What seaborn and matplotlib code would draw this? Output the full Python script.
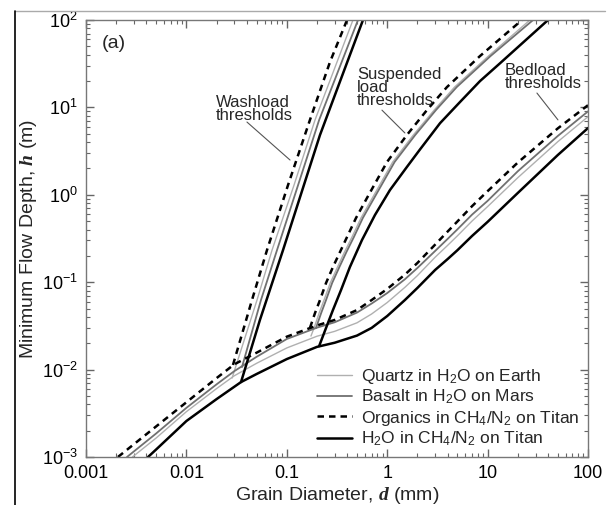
import numpy as np
import pandas as pd
import matplotlib.pyplot as plt
import matplotlib.ticker as mticker
from matplotlib.lines import Line2D
import seaborn as sns

# ---- values (d in mm, h in m) ----
materials = ['Quartz in H$_2$O on Earth', 'Basalt in H$_2$O on Mars',
             'Organics in CH$_4$/N$_2$ on Titan', 'H$_2$O in CH$_4$/N$_2$ on Titan']

# bedload thresholds (run across the whole grain-size range)
bed_d_quartz = [0.0029, 0.005, 0.01, 0.02, 0.03, 0.05, 0.1, 0.2, 0.3, 0.5, 0.7, 1, 1.5, 2, 3, 4, 5, 7,
                10, 20, 50, 100]
bed_h_quartz = [0.001, 0.00165, 0.0033, 0.00607, 0.0085, 0.0118, 0.0177, 0.0241, 0.0274, 0.0343, 0.0433,
                0.0585, 0.0873, 0.119, 0.193, 0.264, 0.339, 0.501, 0.733, 1.57, 4.05, 7.83]
bed_d_basalt = [0.00256, 0.005, 0.01, 0.02, 0.03, 0.05, 0.1, 0.2, 0.3, 0.5, 0.7, 1, 1.5, 2, 3, 4, 5, 7,
                10, 20, 50, 100]
bed_h_basalt = [0.001, 0.00186, 0.00365, 0.00679, 0.0096, 0.014, 0.0224, 0.0302, 0.0348, 0.0449, 0.057,
                0.0751, 0.108, 0.1455, 0.2275, 0.313, 0.402, 0.593, 0.852, 1.86, 4.71, 9.0]
bed_d_organics = [0.00208, 0.005, 0.01, 0.02, 0.03, 0.05, 0.1, 0.2, 0.3, 0.5, 0.7, 1, 1.5, 2, 3, 4, 5, 7,
                  10, 20, 50, 100]
bed_h_organics = [0.001, 0.00224, 0.00423, 0.008, 0.0115, 0.0156, 0.0238, 0.032, 0.037, 0.048, 0.0625,
                  0.0836, 0.122, 0.166, 0.269, 0.38, 0.495, 0.741, 1.1, 2.34, 5.75, 10.6]
bed_d_ice = [0.00415, 0.005, 0.01, 0.02, 0.035, 0.05, 0.1, 0.2, 0.3, 0.5, 0.7, 1, 1.5, 2, 3, 4, 5, 7,
             10, 20, 50, 100]
bed_h_ice = [0.001, 0.00122, 0.00258, 0.0046, 0.0072, 0.0089, 0.0132, 0.0182, 0.0203, 0.0245, 0.030,
             0.041, 0.0625, 0.086, 0.138, 0.184, 0.232, 0.338, 0.49, 1.05, 2.85, 5.8]

# suspended load thresholds
sus_d_quartz = [0.174, 0.187, 0.21, 0.235, 0.271, 0.32, 0.376, 0.446, 0.548, 0.711, 1.134, 1.82, 2.94,
                4.69, 10.2, 26.4]
sus_h_quartz = [0.0242, 0.030, 0.0444, 0.0625, 0.098, 0.149, 0.222, 0.329, 0.543, 0.92, 2.37, 4.83, 9.33,
                17.1, 38.7, 100]
sus_d_basalt = [0.195, 0.22, 0.246, 0.283, 0.334, 0.393, 0.466, 0.572, 0.742, 1.184, 1.9, 3.06, 4.93,
                10.7, 28.4]
sus_h_basalt = [0.0298, 0.0444, 0.0625, 0.098, 0.149, 0.222, 0.329, 0.543, 0.92, 2.37, 4.83, 9.33, 17.1,
                38.7, 100]
sus_d_organics = [0.17, 0.191, 0.214, 0.246, 0.288, 0.339, 0.398, 0.489, 0.629, 0.995, 1.57, 2.49, 3.94,
                  8.4, 22.0]
sus_h_organics = [0.030, 0.0444, 0.0625, 0.098, 0.149, 0.222, 0.329, 0.543, 0.92, 2.37, 4.83, 9.33, 17.1,
                  38.7, 100]
sus_d_ice = [0.21, 0.246, 0.288, 0.347, 0.425, 0.561, 0.755, 1.066, 1.57, 2.12, 3.36, 5.3, 8.4, 13.3, 40.0]
sus_h_ice = [0.0186, 0.030, 0.048, 0.0815, 0.149, 0.304, 0.587, 1.135, 2.08, 3.3, 6.6, 11.5, 20.0, 32.0, 100]

# washload thresholds
wash_d_quartz = [0.0285, 0.0505, 0.0713, 0.118, 0.191, 0.456]
wash_h_quartz = [0.008, 0.0625, 0.233, 1.29, 7.18, 100]
wash_d_basalt = [0.0358, 0.0553, 0.0799, 0.1295, 0.21, 0.512]
wash_h_basalt = [0.0107, 0.0625, 0.233, 1.29, 7.18, 100]
wash_d_organics = [0.0291, 0.045, 0.0635, 0.1028, 0.17, 0.269, 0.398]
wash_h_organics = [0.0113, 0.0625, 0.233, 1.29, 7.18, 33.0, 100]
wash_d_ice = [0.035, 0.054, 0.0917, 0.214, 0.574]
wash_h_ice = [0.0072, 0.037, 0.233, 4.83, 100]

x_ticks = [0.001, 0.01, 0.1, 1, 10, 100]
x_ticklabels = ['0.001', '0.01', '0.1', '1', '10', '100']

curves = {
    materials[0]: [(bed_d_quartz, bed_h_quartz), (sus_d_quartz, sus_h_quartz), (wash_d_quartz, wash_h_quartz)],
    materials[1]: [(bed_d_basalt, bed_h_basalt), (sus_d_basalt, sus_h_basalt), (wash_d_basalt, wash_h_basalt)],
    materials[2]: [(bed_d_organics, bed_h_organics), (sus_d_organics, sus_h_organics), (wash_d_organics, wash_h_organics)],
    materials[3]: [(bed_d_ice, bed_h_ice), (sus_d_ice, sus_h_ice), (wash_d_ice, wash_h_ice)],
}
styles = {
    materials[0]: dict(color='#b0b0b0', lw=1.0, dashes=None),
    materials[1]: dict(color='#707070', lw=1.3, dashes=None),
    materials[2]: dict(color='black', lw=1.8, dashes=(2.6, 2.0)),
    materials[3]: dict(color='black', lw=1.8, dashes=None),
}

sns.set_style('ticks')
plt.rcParams['font.family'] = ['Liberation Sans', 'DejaVu Sans']
plt.rcParams['mathtext.fontset'] = 'custom'
plt.rcParams['mathtext.rm'] = 'Liberation Sans'
plt.rcParams['mathtext.it'] = 'Liberation Sans:italic'
plt.rcParams['mathtext.bf'] = 'Liberation Serif:bold:italic'

fig = plt.figure(figsize=(6.13, 5.05), dpi=100)
ax = fig.add_axes([86 / 613, 48 / 505, 502 / 613, 437 / 505])

for name in materials:
    st = styles[name]
    for i, (dd, hh) in enumerate(curves[name]):
        df = pd.DataFrame({'d': dd, 'h': hh})
        sns.lineplot(data=df, x='d', y='h', ax=ax, sort=False, estimator=None,
                     color=st['color'], lw=st['lw'], legend=False)
        ax.lines[-1].set_solid_joinstyle('round')
        if st['dashes'] is not None:
            ax.lines[-1].set_dashes(st['dashes'])

ax.set_xscale('log')
ax.set_yscale('log')
ax.set_xlim(0.001, 100)
ax.set_ylim(0.001, 100)
ax.xaxis.set_major_locator(mticker.FixedLocator(x_ticks))
ax.xaxis.set_major_formatter(mticker.FixedFormatter(x_ticklabels))
ax.xaxis.set_minor_locator(mticker.LogLocator(base=10, subs=np.arange(2, 10)))
ax.yaxis.set_minor_locator(mticker.LogLocator(base=10, subs=np.arange(2, 10)))
ax.xaxis.set_minor_formatter(mticker.NullFormatter())
ax.yaxis.set_minor_formatter(mticker.NullFormatter())
ax.tick_params(which='both', direction='in', top=True, right=True, color='#666666',
               labelsize=13, labelcolor='black')
ax.tick_params(which='major', length=6, width=1.0, pad=6)
ax.tick_params(which='minor', length=3, width=0.8)
for sp in ax.spines.values():
    sp.set_color('#777777')
    sp.set_linewidth(1.0)

ax.set_xlabel(r'Grain Diameter, $\mathbf{d}$ (mm)', fontsize=14, labelpad=2)
ax.set_ylabel(r'Minimum Flow Depth, $\mathbf{h}$ (m)', fontsize=14, labelpad=2)

ax.text(0.032, 0.966, '(a)', transform=ax.transAxes, fontsize=14, va='top', ha='left')

ann = dict(fontsize=12, linespacing=0.85, ha='left', va='top')
ax.text(0.0197, 13.9, 'Washload\nthresholds', **ann)
ax.plot([0.0401, 0.1077], [6.8, 2.5], color='#555555', lw=0.8)
ax.text(0.5, 29, 'Suspended\nload\nthresholds', **ann)
ax.plot([0.887, 1.5], [9.3, 5.1], color='#555555', lw=0.8)
ax.text(14.9, 32, 'Bedload\nthresholds', **ann)
ax.plot([31, 50.2], [14.6, 7.2], color='#555555', lw=0.8)

handles = [Line2D([], [], color=styles[m]['color'], lw=styles[m]['lw'],
                  dashes=styles[m]['dashes'] if styles[m]['dashes'] else (None, None)) for m in materials]
ax.legend(handles, materials, loc='lower right', frameon=False, fontsize=12.5,
          handlelength=2.0, handletextpad=0.5, labelspacing=0.12,
          borderaxespad=0.3, borderpad=0.2)

# scan border of the original figure
fig.add_artist(Line2D([15 / 613, 605 / 613], [1 - 11 / 505, 1 - 11 / 505],
                      transform=fig.transFigure, color='#aaaaaa', lw=1.0))
fig.add_artist(Line2D([15 / 613, 15 / 613], [0, 1 - 11 / 505],
                      transform=fig.transFigure, color='black', lw=1.2))

fig.savefig('out.png', dpi=100)
